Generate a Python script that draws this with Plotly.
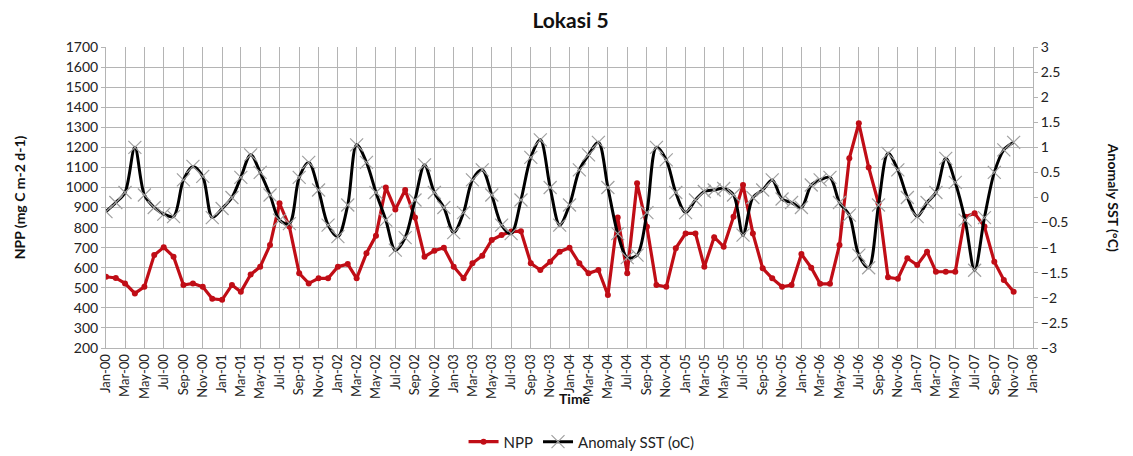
import pandas as pd
import plotly.graph_objects as go

# ---- data (monthly, Jan-2000 .. Nov-2007) ----
start_month = "2000-01-01"
n_months = 95
months = pd.date_range(start_month, periods=n_months, freq="MS")

npp = [555, 549, 522, 472, 505, 663, 702, 655, 514, 522, 505, 445,
       440, 514, 480, 566, 605, 713, 921, 805, 572, 522, 547, 547,
       605, 618, 547, 672, 760, 1000, 890, 987, 850, 655, 685, 700,
       605, 547, 622, 660, 738, 763, 780, 782, 622, 589, 630, 680,
       700, 622, 572, 589, 464, 850, 572, 1021, 804, 514, 505, 697,
       771, 771, 605, 752, 705, 854, 1012, 771, 597, 547, 505, 514,
       668, 600, 520, 520, 713, 1145, 1320, 1100, 921, 552, 545, 647,
       613, 680, 580, 580, 580, 854, 871, 805, 630, 539, 480]

sst = [-0.28, -0.10, 0.10, 1.00, 0.05, -0.20, -0.33, -0.38, 0.35, 0.62, 0.42, -0.40,
       -0.22, 0.00, 0.40, 0.85, 0.50, 0.05, -0.45, -0.52, 0.40, 0.70, 0.15, -0.55,
       -0.78, -0.15, 1.05, 0.70, 0.10, -0.45, -1.05, -0.80, -0.05, 0.65, 0.10, -0.20,
       -0.70, -0.30, 0.35, 0.55, 0.05, -0.55, -0.72, -0.05, 0.80, 1.15, 0.20, -0.55,
       -0.15, 0.55, 0.85, 1.10, 0.20, -0.72, -1.20, -1.15, -0.30, 1.00, 0.75, 0.10,
       -0.30, -0.05, 0.12, 0.15, 0.18, 0.05, -0.75, 0.00, 0.15, 0.35, -0.03, -0.10,
       -0.20, 0.25, 0.35, 0.40, -0.10, -0.35, -1.15, -1.40, -0.15, 0.88, 0.55, 0.00,
       -0.38, -0.10, 0.10, 0.78, 0.30, -0.45, -1.45, -0.40, 0.50, 0.95, 1.10]

title_text = "Lokasi 5"
npp_name = "NPP"
sst_name = "Anomaly SST (oC)"
left_title = "NPP (mg C m-2 d-1)"
right_title = "Anomaly SST (°C)"
x_title = "Time"
x_range = ["2000-01-01", "2008-01-01"]

FONT = "Lato, 'Open Sans', sans-serif"
GRID = "#b4b4b4"

fig = go.Figure()
fig.add_trace(go.Scatter(
    x=months, y=npp, name=npp_name, mode="lines+markers",
    line=dict(color="#c00d16", width=3.2),
    marker=dict(symbol="circle", size=6, color="#c00d16"),
    yaxis="y"))
fig.add_trace(go.Scatter(
    x=months, y=sst, name=sst_name, mode="lines+markers",
    line=dict(color="#000000", width=3, shape="spline", smoothing=0.9),
    marker=dict(symbol="x-thin-open", size=13, color="#a0a0a0",
                line=dict(width=1.2, color="#a0a0a0")),
    yaxis="y2"))

# The page body has an 8px margin, so the figure is sized to fit the window.
fig.update_layout(
    width=1125, height=448,
    margin=dict(l=98, r=100, t=39, b=108, autoexpand=False),
    paper_bgcolor="white", plot_bgcolor="white",
    font=dict(family=FONT, size=14, color="#222222"),
    title=dict(text="<b>" + title_text + "</b>", x=0.5, xanchor="center",
               y=0.972, yanchor="middle", font=dict(size=21, color="#111111")),
    showlegend=True,
    legend=dict(orientation="h", x=0.513, xanchor="center", y=-0.312, yanchor="middle",
                font=dict(size=15), bgcolor="rgba(0,0,0,0)"),
    xaxis=dict(type="date", range=x_range, dtick="M2", tick0="2000-01-01",
               tickformat="%b-%y", tickangle=-90, showgrid=True, gridcolor=GRID,
               gridwidth=1, showline=True, linecolor=GRID, ticks="",
               tickfont=dict(size=13), zeroline=False, automargin=False),
    yaxis=dict(range=[200, 1700], dtick=100, showgrid=True, gridcolor=GRID,
               showline=True, linecolor=GRID, ticks="outside", ticklen=4,
               tickcolor=GRID, tickfont=dict(size=14), zeroline=False,
               automargin=False),
    yaxis2=dict(range=[-3, 3], dtick=0.5, overlaying="y", side="right",
                showgrid=False, showline=True, linecolor=GRID, ticks="outside",
                ticklen=4, tickcolor=GRID, tickfont=dict(size=14), zeroline=False,
                automargin=False),
    annotations=[
        dict(text="<b>" + left_title + "</b>", xref="paper", yref="paper",
             x=-0.093, y=0.5, xanchor="center", yanchor="middle", textangle=-90,
             showarrow=False, font=dict(size=14, color="#111111")),
        dict(text="<b>" + right_title + "</b>", xref="paper", yref="paper",
             x=1.087, y=0.5, xanchor="center", yanchor="middle", textangle=90,
             showarrow=False, font=dict(size=14, color="#111111")),
        dict(text="<b>" + x_title + "</b>", xref="paper", yref="paper",
             x=0.506, y=-0.168, xanchor="center", yanchor="middle",
             showarrow=False, font=dict(size=14, color="#111111")),
    ],
)

fig.write_html("out.html")
